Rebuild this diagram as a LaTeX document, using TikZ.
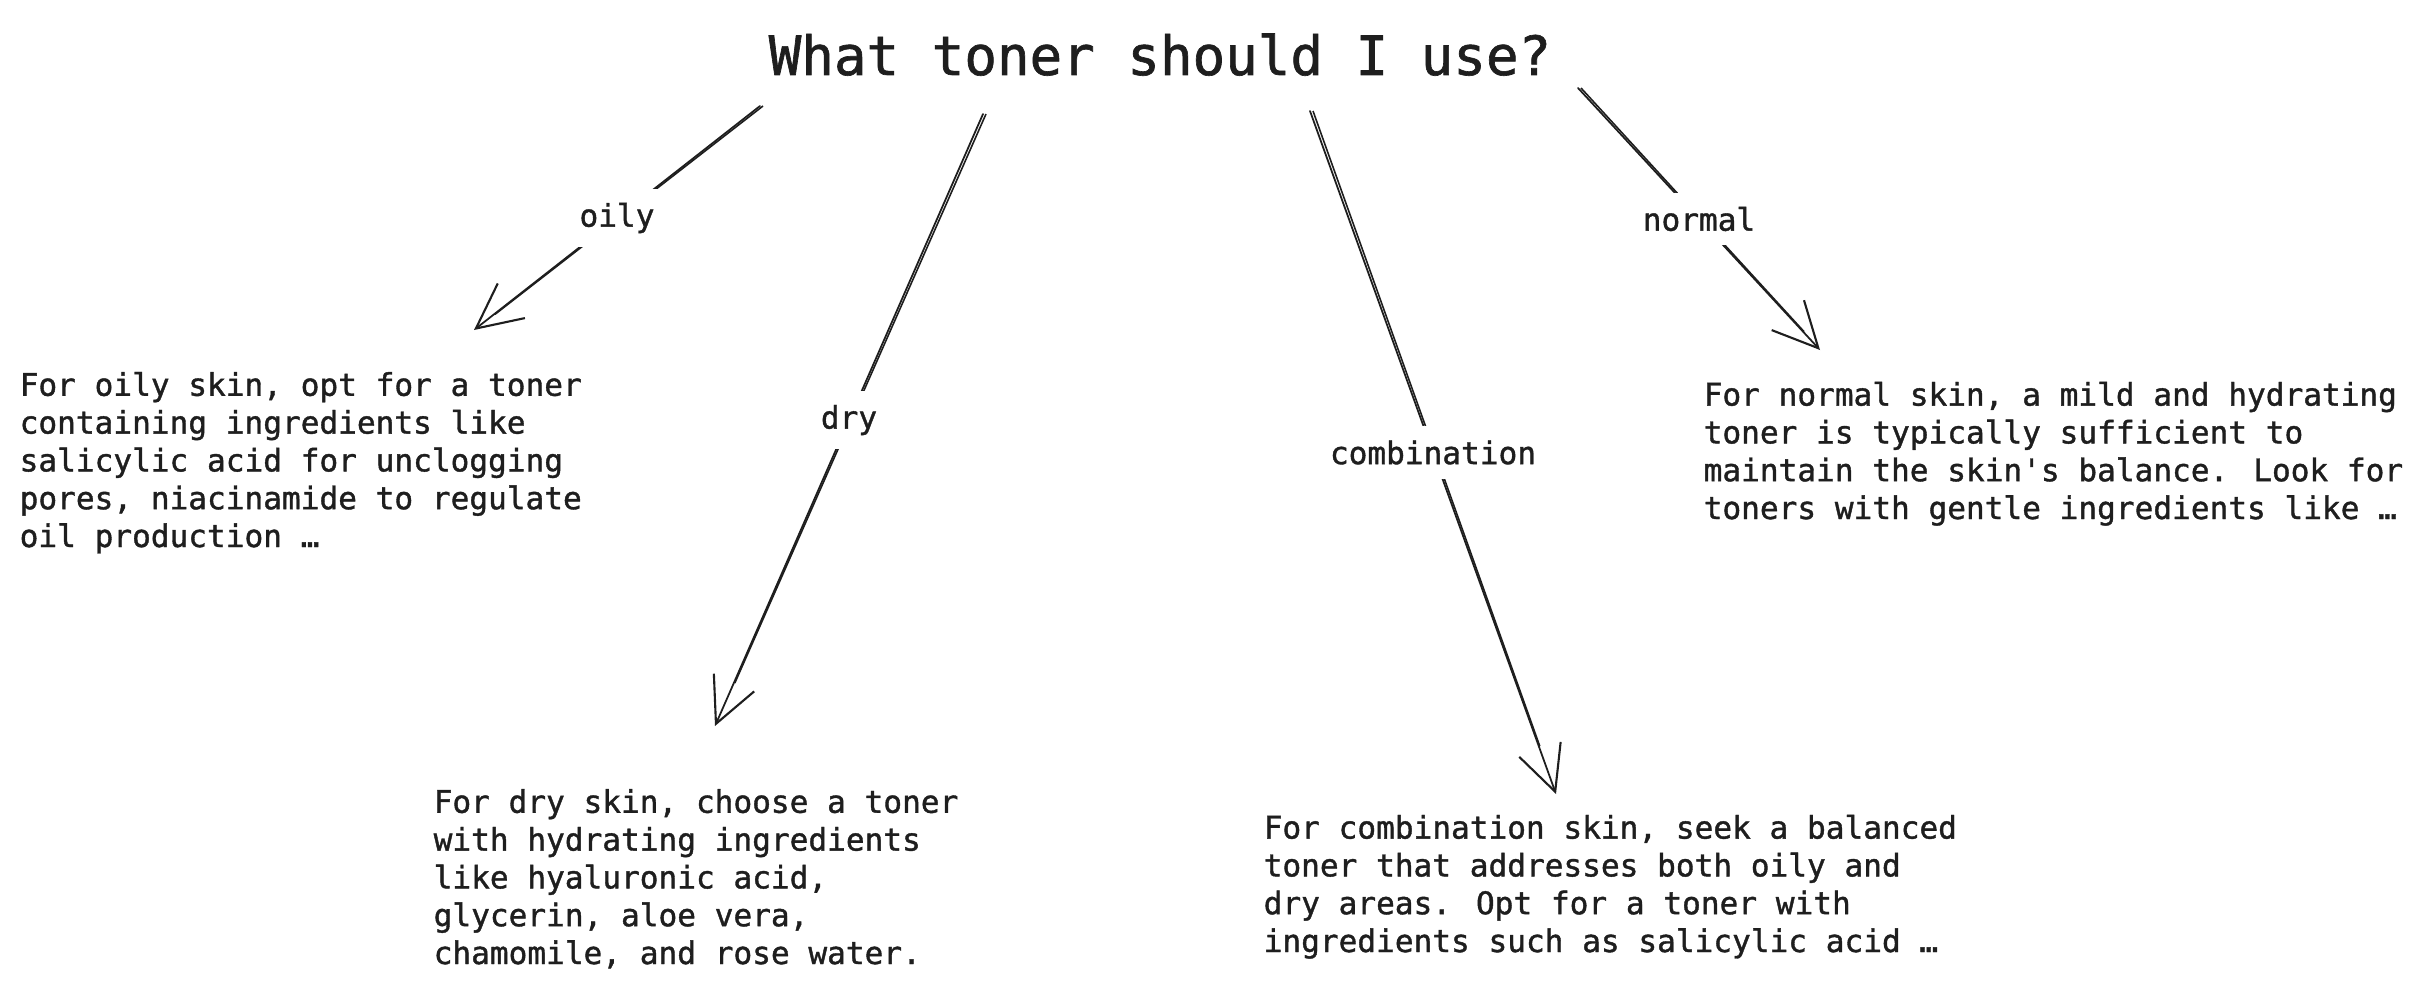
\documentclass[tikz,border=0pt]{standalone}
\usepackage{fontspec}
\setmonofont{DejaVu Sans Mono}
\newfontfamily\codefont{DejaVu Sans Mono}[FakeBold=1.2]
\usepackage{tikz}
\usetikzlibrary{positioning,arrows.meta,calc}
\definecolor{ink}{HTML}{1E1E1E}

\begin{document}
\begin{tikzpicture}[
x=0.01cm, y=-0.01cm,
mytext/.style={
  anchor=base west,
  align=left,
  inner sep=0pt,
  text=ink,
  font=\codefont\fontsize{8.85}{10.75}\selectfont},
mylabel/.style={
  fill=white,
  inner sep=4pt,
  text=ink,
  font=\codefont\fontsize{8.85}{10.75}\selectfont},
myarrow/.style={
  draw=ink,
  line width=0.5pt,
  line cap=round,
  -{Straight Barb[length=4.5mm,width=4.4mm,line width=0.6pt]}}
]
\useasboundingbox (0,0) rectangle (2433,994);
\node[anchor=base, inner sep=0pt, text=ink,
  font=\codefont\fontsize{15.4}{18}\selectfont] (title) at (1160,75)
  {What toner should I use?};
% answers (anchored at the baseline of the last line)
\node[mytext] (oilytext) at (19,547)
  {For oily skin, opt for a toner\\containing ingredients like\\salicylic acid for unclogging\\pores, niacinamide to regulate\\oil production~…};
\node[mytext] (drytext) at (433,964)
  {For dry skin, choose a toner\\with hydrating ingredients\\like hyaluronic acid,\\glycerin, aloe vera,\\chamomile, and rose water.};
\node[mytext] (combtext) at (1263,952)
  {For combination skin, seek a balanced\\toner that addresses both oily and\\dry areas. Opt for a toner with\\ingredients such as salicylic acid~…};
\node[mytext] (normtext) at (1703,519)
  {For normal skin, a mild and hydrating\\toner is typically sufficient to\\maintain the skin's balance. Look for\\toners with gentle ingredients like~…};
% arrow ends
\coordinate (oS) at (760,106);
\coordinate (oE) at (474,330);
\coordinate (dS) at (983,114);
\coordinate (dE) at (715,726);
\coordinate (cS) at (1310,111);
\coordinate (cE) at (1556,794);
\coordinate (nS) at (1578,88);
\coordinate (nE) at (1820,350);
\foreach \a/\b/\lab in {oS/oE/oily, dS/dE/dry, cS/cE/combination, nS/nE/normal}{
  \draw[myarrow] (\a) -- (\b);
  \draw[draw=ink, line width=0.45pt] ([xshift=0.03cm]\a) -- ([xshift=0.01cm]$(\a)!.93!(\b)$);
  \node[mylabel] at ($(\a)!.5!(\b)$) {\lab};
}
\end{tikzpicture}
\end{document}
